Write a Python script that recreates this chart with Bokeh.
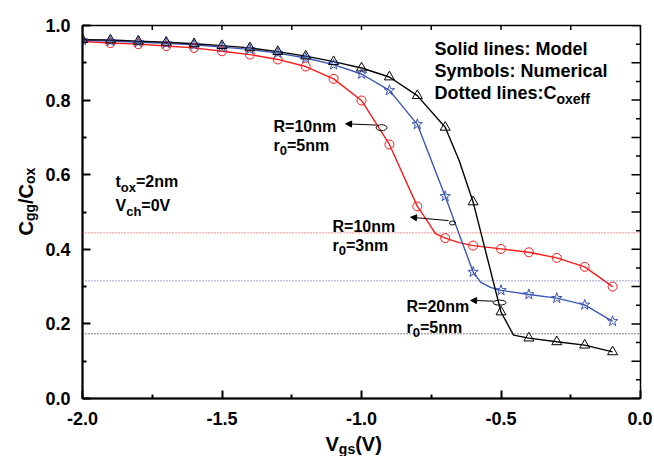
import math
from bokeh.plotting import figure
from bokeh.layouts import column, row
from bokeh.models import (Range1d, FixedTicker, NumeralTickFormatter,
                          Label, Arrow, NormalHead, Span)
from bokeh.embed import file_html
from bokeh.resources import INLINE

# ---------------- data ----------------
# numerical symbols
vgs_circle = [-1.9, -1.8, -1.7, -1.6, -1.5, -1.4, -1.3, -1.2, -1.1, -1.0,
              -0.9, -0.8, -0.7, -0.6, -0.5, -0.4, -0.3, -0.2, -0.1]
cgg_circle = [0.953, 0.950, 0.945, 0.940, 0.931, 0.922, 0.909, 0.890, 0.857, 0.799,
              0.681, 0.515, 0.430, 0.410, 0.401, 0.392, 0.377, 0.353, 0.300]

vgs_star = [-2.0, -1.9, -1.8, -1.7, -1.6, -1.5, -1.4, -1.3, -1.2, -1.1, -1.0,
            -0.9, -0.8, -0.7, -0.6, -0.5, -0.4, -0.3, -0.2, -0.1]
cgg_star = [0.960, 0.958, 0.955, 0.952, 0.948, 0.942, 0.936, 0.926, 0.913, 0.895, 0.870,
            0.826, 0.735, 0.542, 0.339, 0.290, 0.279, 0.269, 0.251, 0.207]

vgs_tri = [-2.0, -1.9, -1.8, -1.7, -1.6, -1.5, -1.4, -1.3, -1.2, -1.1, -1.0,
           -0.9, -0.8, -0.7, -0.6, -0.5, -0.4, -0.3, -0.2, -0.1]
cgg_tri = [0.962, 0.961, 0.958, 0.955, 0.951, 0.946, 0.940, 0.930, 0.918, 0.903, 0.886,
           0.862, 0.812, 0.727, 0.527, 0.232, 0.162, 0.152, 0.143, 0.125]

# model lines
vgs_red_model = [-2.0, -1.9, -1.8, -1.7, -1.6, -1.5, -1.4, -1.3, -1.2, -1.1, -1.0,
                 -0.9, -0.8, -0.765, -0.735, -0.7, -0.65, -0.6, -0.5, -0.4, -0.3, -0.2, -0.1]
cgg_red_model = [0.957, 0.953, 0.950, 0.945, 0.940, 0.931, 0.922, 0.909, 0.890, 0.857, 0.799,
                 0.681, 0.515, 0.477, 0.442, 0.430, 0.418, 0.410, 0.401, 0.392, 0.377, 0.353, 0.300]

vgs_blue_model = [-2.0, -1.9, -1.8, -1.7, -1.6, -1.5, -1.4, -1.3, -1.2, -1.1, -1.0,
                  -0.9, -0.8, -0.7, -0.6, -0.573, -0.538, -0.5, -0.4, -0.3, -0.2, -0.1]
cgg_blue_model = [0.960, 0.958, 0.955, 0.952, 0.948, 0.942, 0.936, 0.926, 0.913, 0.895, 0.870,
                  0.826, 0.735, 0.542, 0.339, 0.312, 0.298, 0.290, 0.279, 0.269, 0.251, 0.207]

vgs_black_model = [-2.0, -1.9, -1.8, -1.7, -1.6, -1.5, -1.4, -1.3, -1.2, -1.1, -1.0,
                   -0.9, -0.8, -0.7, -0.65, -0.6, -0.5, -0.455, -0.4, -0.3, -0.2, -0.1]
cgg_black_model = [0.962, 0.961, 0.958, 0.955, 0.951, 0.946, 0.940, 0.930, 0.918, 0.903, 0.886,
                   0.862, 0.812, 0.727, 0.638, 0.527, 0.232, 0.170, 0.162, 0.152, 0.143, 0.125]

# effective oxide capacitance levels (dotted lines)
coxeff_levels = [0.444, 0.3155, 0.1734]

# ticks
x_major = [-2.0, -1.5, -1.0, -0.5, 0.0]
x_minor = [-1.75, -1.25, -0.75, -0.25]
x_top = [-2.0, -1.75, -1.5, -1.25, -1.0, -0.75, -0.5, -0.25, 0.0]
y_major = [0.0, 0.2, 0.4, 0.6, 0.8, 1.0]
y_minor = [0.1, 0.3, 0.5, 0.7, 0.9]
y_right_major = [0.0, 0.1, 0.2, 0.3, 0.4, 0.5, 0.6, 0.7, 0.8, 0.9, 1.0]
y_right_minor = [0.05, 0.15, 0.25, 0.35, 0.45, 0.55, 0.65, 0.75, 0.85, 0.95]

# annotation arrows (start -> tip) and loops
arrow_x0 = [-0.946, -0.688, -0.527]
arrow_y0 = [0.733, 0.477, 0.261]
arrow_x1 = [-1.057, -0.824, -0.609]
arrow_y1 = [0.7365, 0.486, 0.263]
loop_x = [-0.928, -0.674, -0.505]
loop_y = [0.726, 0.4705, 0.257]
loop_w = [11, 6, 13]
loop_h = [6, 4, 5]

RED = "#ff1a1a"
BLUE = "#3a56b4"
BLACK = "#000000"
FONT = "Liberation Sans"

LEFT_W = 40
MAIN_W = 42 + 558 + 12
MAIN_H = 25 + 373 + 30
BOTTOM_H = 28

p = figure(frame_width=558, frame_height=373,
           x_range=Range1d(-2.0, 0.0), y_range=Range1d(0.0, 1.0),
           output_backend="svg", toolbar_location=None,
           min_border_left=42, min_border_top=25, min_border_right=12,
           min_border_bottom=30)
p.outline_line_color = "black"
p.outline_line_width = 1.5
p.xgrid.visible = False
p.ygrid.visible = False
p.background_fill_color = "white"
p.border_fill_color = "white"

# bottom axis
xa = p.xaxis[0]
xa.ticker = FixedTicker(ticks=x_major, minor_ticks=x_minor)
xa.formatter = NumeralTickFormatter(format="0.0")
xa.major_tick_in = 8
xa.major_tick_out = 0
xa.minor_tick_in = 4
xa.minor_tick_out = 0
xa.axis_line_width = 2
xa.major_tick_line_width = 2
xa.minor_tick_line_width = 2
xa.major_label_text_font = FONT
xa.major_label_text_font_style = "bold"
xa.major_label_text_font_size = "18px"
xa.major_label_text_color = "black"
xa.major_label_standoff = 13

ya = p.yaxis[0]
ya.ticker = FixedTicker(ticks=y_major, minor_ticks=y_minor)
ya.formatter = NumeralTickFormatter(format="0.0")
ya.major_tick_in = 8
ya.major_tick_out = 0
ya.minor_tick_in = 4
ya.minor_tick_out = 0
ya.axis_line_width = 2
ya.major_tick_line_width = 2
ya.minor_tick_line_width = 2
ya.major_label_text_font = FONT
ya.major_label_text_font_style = "bold"
ya.major_label_text_font_size = "18px"
ya.major_label_text_color = "black"
ya.major_label_standoff = 12

# mirrored inner ticks on the right and top edges (clipped dashes)
p.scatter([0.0] * len(y_right_major), y_right_major, marker="dash", size=18,
          line_color="black", line_width=1.5)
p.scatter([0.0] * len(y_right_minor), y_right_minor, marker="dash", size=9,
          line_color="black", line_width=1.5)
p.scatter(x_top, [1.0] * len(x_top), marker="dash", size=9, angle=math.pi / 2,
          line_color="black", line_width=1.5)

# dotted Coxeff lines
for lvl, col in zip(coxeff_levels, [RED, BLUE, BLACK]):
    p.add_layout(Span(location=lvl, dimension="width", line_color=col,
                      line_width=1, line_dash="1 2"))

# model lines
p.line(vgs_red_model, cgg_red_model, line_color=RED, line_width=1.4)
p.line(vgs_blue_model, cgg_blue_model, line_color=BLUE, line_width=1.4)
p.line(vgs_black_model, cgg_black_model, line_color=BLACK, line_width=1.4)

# symbols
p.scatter(vgs_circle, cgg_circle, marker="circle", size=9, fill_color=None,
          line_color=RED, line_width=1)
p.scatter(vgs_star, cgg_star, marker="star", size=11, fill_color=None,
          line_color=BLUE, line_width=1)
p.scatter(vgs_tri, cgg_tri, marker="triangle", size=10, fill_color=None,
          line_color=BLACK, line_width=1)

# arrows and loops
for x0, y0, x1, y1 in zip(arrow_x0, arrow_y0, arrow_x1, arrow_y1):
    p.add_layout(Arrow(end=NormalHead(size=6, fill_color="black", line_color="black"),
                       x_start=x0, y_start=y0, x_end=x1, y_end=y1,
                       line_color="black", line_width=1))
p.ellipse(x=loop_x, y=loop_y, width=loop_w, height=loop_h,
          width_units="screen", height_units="screen",
          fill_color=None, line_color="black", line_width=1)

# ---------- text helpers ----------
W = {' ': 278, '(': 333, ')': 333, '/': 278, ':': 333, '=': 584, '-': 333, '.': 278,
     'C': 722, 'D': 722, 'M': 833, 'N': 722, 'R': 722, 'S': 667, 'V': 667,
     'a': 556, 'b': 611, 'c': 556, 'd': 611, 'e': 556, 'f': 333, 'g': 611, 'h': 611,
     'i': 278, 'l': 278, 'm': 889, 'n': 611, 'o': 611, 'r': 389, 's': 556, 't': 333,
     'u': 611, 'x': 556, 'y': 556}


def tw(s, size):
    return sum(W.get(c, 556) for c in s) * size / 1000.0


def rich(fig, parts, x, y, angle=0.0):
    cum = 0.0
    for text, size, dy in parts:
        if angle == 0.0:
            xo, yo = cum, -dy
        else:
            xo, yo = dy, cum
        fig.add_layout(Label(x=x, y=y, x_offset=xo, y_offset=yo, text=text,
                             text_font=FONT, text_font_style="bold",
                             text_font_size=f"{size}px", text_color="black",
                             text_align="left", text_baseline="alphabetic",
                             angle=angle))
        cum += tw(text, size)


A = 16
S = 13
rich(p, [("R=10nm", A, 0)], -1.3154, 0.7292)
rich(p, [("r", A, 0), ("0", S, 5), ("=5nm", A, 0)], -1.3154, 0.6783)
rich(p, [("R=10nm", A, 0)], -1.104, 0.4611)
rich(p, [("r", A, 0), ("0", S, 5), ("=3nm", A, 0)], -1.104, 0.4102)
rich(p, [("R=20nm", A, 0)], -0.8387, 0.2475)
rich(p, [("r", A, 0), ("0", S, 5), ("=5nm", A, 0)], -0.8387, 0.191)
rich(p, [("t", A, 0), ("ox", S, 6), ("=2nm", A, 0)], -1.8817, 0.5818)
rich(p, [("V", A, 0), ("ch", S, 6), ("=0V", A, 0)], -1.8817, 0.5174)

T = 18
rich(p, [("Solid lines: Model", T, 0)], -0.7384, 0.9383)
rich(p, [("Symbols: Numerical", T, 0)], -0.7384, 0.878)
rich(p, [("Dotted lines:C", T, 0), ("oxeff", 14, 6)], -0.7384, 0.8177)


def blank(w, h):
    f = figure(width=w, height=h, x_range=Range1d(0, w), y_range=Range1d(0, h),
               output_backend="svg", toolbar_location=None,
               min_border=0, min_border_left=0, min_border_right=0,
               min_border_top=0, min_border_bottom=0)
    f.axis.visible = False
    f.grid.visible = False
    f.outline_line_color = None
    f.background_fill_color = "white"
    f.border_fill_color = "white"
    return f


# y-axis title panel (pixel coordinates)
left = blank(LEFT_W, MAIN_H)
rich(left, [("C", 20, 0), ("gg", 14, 4), ("/", 20, 0), ("C", 20, 0), ("ox", 14, 4)],
     25, MAIN_H - 241, angle=math.pi / 2)

# x-axis title panel (pixel coordinates)
bottom = blank(LEFT_W + MAIN_W, BOTTOM_H)
rich(bottom, [("V", 20, 0), ("gs", 14, 5), ("(V)", 20, 0)], 325, BOTTOM_H - 15)

layout = column(row(left, p, spacing=0), bottom, spacing=0)
open("out.html", "w").write(file_html(layout, INLINE))
